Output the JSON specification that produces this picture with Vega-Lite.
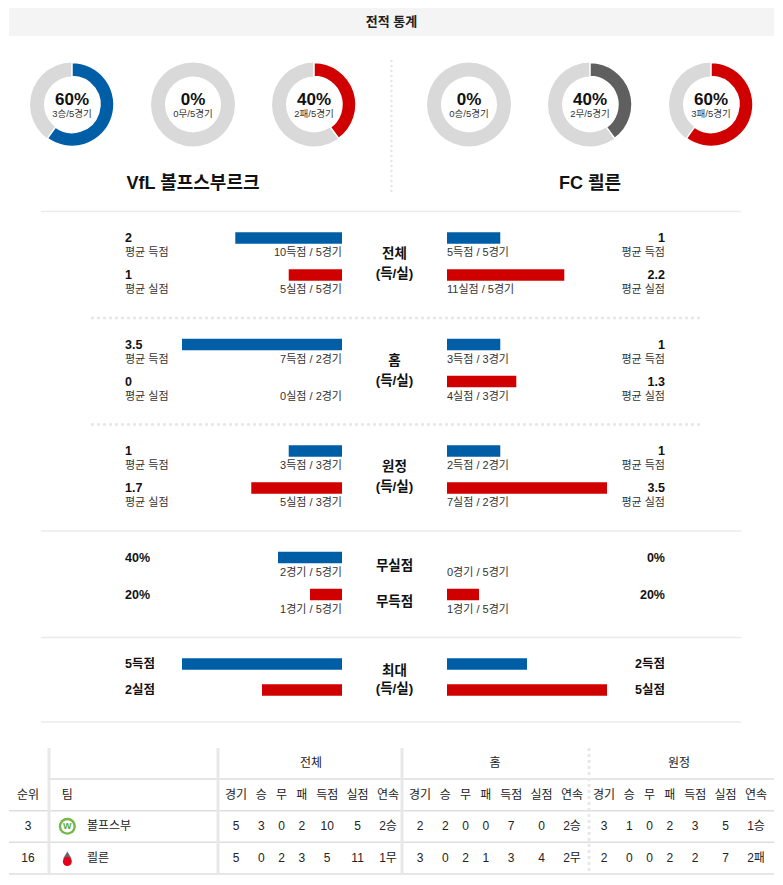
{
  "$schema": "https://vega.github.io/schema/vega-lite/v6.json",
  "width": 783,
  "height": 885,
  "padding": 0,
  "autosize": "none",
  "background": "#ffffff",
  "config": {
    "font": "Liberation Sans, Noto Sans CJK KR, sans-serif",
    "view": {"stroke": null},
    "axis": {"disable": true},
    "legend": {"disable": true},
    "text": {"baseline": "middle", "color": "#111111"}
  },
  "datasets": {
    "title": [{"label": "전적 통계"}],
    "donut": [
      {"team": "VfL", "res": "승", "pct": 60, "big": "60%", "small": "3승/5경기"},
      {"team": "VfL", "res": "무", "pct": 0, "big": "0%", "small": "0무/5경기"},
      {"team": "VfL", "res": "패", "pct": 40, "big": "40%", "small": "2패/5경기"},
      {"team": "FC", "res": "승", "pct": 0, "big": "0%", "small": "0승/5경기"},
      {"team": "FC", "res": "무", "pct": 40, "big": "40%", "small": "2무/5경기"},
      {"team": "FC", "res": "패", "pct": 60, "big": "60%", "small": "3패/5경기"}
    ],
    "teams": [
      {"team": "VfL", "name": "VfL 볼프스부르크", "short": "볼프스부", "rank": "3"},
      {"team": "FC", "name": "FC 쾰른", "short": "쾰른", "rank": "16"}
    ],
    "bars": [
      {"sec": "전체", "team": "VfL", "ord": 1, "val": "2", "sub": "평균 득점", "cnt": "10득점 / 5경기", "bar": 66.7},
      {"sec": "전체", "team": "VfL", "ord": 2, "val": "1", "sub": "평균 실점", "cnt": "5실점 / 5경기", "bar": 33.3},
      {"sec": "전체", "team": "FC", "ord": 1, "val": "1", "sub": "평균 득점", "cnt": "5득점 / 5경기", "bar": 33.3},
      {"sec": "전체", "team": "FC", "ord": 2, "val": "2.2", "sub": "평균 실점", "cnt": "11실점 / 5경기", "bar": 73.3},
      {"sec": "홈", "team": "VfL", "ord": 1, "val": "3.5", "sub": "평균 득점", "cnt": "7득점 / 2경기", "bar": 100},
      {"sec": "홈", "team": "VfL", "ord": 2, "val": "0", "sub": "평균 실점", "cnt": "0실점 / 2경기", "bar": 0},
      {"sec": "홈", "team": "FC", "ord": 1, "val": "1", "sub": "평균 득점", "cnt": "3득점 / 3경기", "bar": 33.3},
      {"sec": "홈", "team": "FC", "ord": 2, "val": "1.3", "sub": "평균 실점", "cnt": "4실점 / 3경기", "bar": 43.3},
      {"sec": "원정", "team": "VfL", "ord": 1, "val": "1", "sub": "평균 득점", "cnt": "3득점 / 3경기", "bar": 33.3},
      {"sec": "원정", "team": "VfL", "ord": 2, "val": "1.7", "sub": "평균 실점", "cnt": "5실점 / 3경기", "bar": 56.7},
      {"sec": "원정", "team": "FC", "ord": 1, "val": "1", "sub": "평균 득점", "cnt": "2득점 / 2경기", "bar": 33.3},
      {"sec": "원정", "team": "FC", "ord": 2, "val": "3.5", "sub": "평균 실점", "cnt": "7실점 / 2경기", "bar": 100},
      {"sec": "무실점", "team": "VfL", "ord": 1, "val": "40%", "cnt": "2경기 / 5경기", "bar": 40},
      {"sec": "무실점", "team": "VfL", "ord": 2, "val": "20%", "cnt": "1경기 / 5경기", "bar": 20},
      {"sec": "무실점", "team": "FC", "ord": 1, "val": "0%", "cnt": "0경기 / 5경기", "bar": 0},
      {"sec": "무실점", "team": "FC", "ord": 2, "val": "20%", "cnt": "1경기 / 5경기", "bar": 20},
      {"sec": "최대", "team": "VfL", "ord": 1, "val": "5득점", "bar": 100},
      {"sec": "최대", "team": "VfL", "ord": 2, "val": "2실점", "bar": 50},
      {"sec": "최대", "team": "FC", "ord": 1, "val": "2득점", "bar": 50},
      {"sec": "최대", "team": "FC", "ord": 2, "val": "5실점", "bar": 100}
    ],
    "centers": [
      {"sec": "전체", "ord": 1, "label": "전체"},
      {"sec": "전체", "ord": 2, "label": "(득/실)"},
      {"sec": "홈", "ord": 1, "label": "홈"},
      {"sec": "홈", "ord": 2, "label": "(득/실)"},
      {"sec": "원정", "ord": 1, "label": "원정"},
      {"sec": "원정", "ord": 2, "label": "(득/실)"},
      {"sec": "무실점", "ord": 1, "label": "무실점"},
      {"sec": "무실점", "ord": 2, "label": "무득점"},
      {"sec": "최대", "ord": 1, "label": "최대"},
      {"sec": "최대", "ord": 2, "label": "(득/실)"}
    ],
    "trows": [{"row": "grp"}, {"row": "hdr"}, {"row": "VfL"}, {"row": "FC"}],
    "lhead": [{"col": "순위", "label": "순위"}, {"col": "팀", "label": "팀"}],
    "cells": [
      {"team": "VfL", "grp": "전체", "col": "경기", "v": "5"},
      {"team": "VfL", "grp": "전체", "col": "승", "v": "3"},
      {"team": "VfL", "grp": "전체", "col": "무", "v": "0"},
      {"team": "VfL", "grp": "전체", "col": "패", "v": "2"},
      {"team": "VfL", "grp": "전체", "col": "득점", "v": "10"},
      {"team": "VfL", "grp": "전체", "col": "실점", "v": "5"},
      {"team": "VfL", "grp": "전체", "col": "연속", "v": "2승"},
      {"team": "VfL", "grp": "홈", "col": "경기", "v": "2"},
      {"team": "VfL", "grp": "홈", "col": "승", "v": "2"},
      {"team": "VfL", "grp": "홈", "col": "무", "v": "0"},
      {"team": "VfL", "grp": "홈", "col": "패", "v": "0"},
      {"team": "VfL", "grp": "홈", "col": "득점", "v": "7"},
      {"team": "VfL", "grp": "홈", "col": "실점", "v": "0"},
      {"team": "VfL", "grp": "홈", "col": "연속", "v": "2승"},
      {"team": "VfL", "grp": "원정", "col": "경기", "v": "3"},
      {"team": "VfL", "grp": "원정", "col": "승", "v": "1"},
      {"team": "VfL", "grp": "원정", "col": "무", "v": "0"},
      {"team": "VfL", "grp": "원정", "col": "패", "v": "2"},
      {"team": "VfL", "grp": "원정", "col": "득점", "v": "3"},
      {"team": "VfL", "grp": "원정", "col": "실점", "v": "5"},
      {"team": "VfL", "grp": "원정", "col": "연속", "v": "1승"},
      {"team": "FC", "grp": "전체", "col": "경기", "v": "5"},
      {"team": "FC", "grp": "전체", "col": "승", "v": "0"},
      {"team": "FC", "grp": "전체", "col": "무", "v": "2"},
      {"team": "FC", "grp": "전체", "col": "패", "v": "3"},
      {"team": "FC", "grp": "전체", "col": "득점", "v": "5"},
      {"team": "FC", "grp": "전체", "col": "실점", "v": "11"},
      {"team": "FC", "grp": "전체", "col": "연속", "v": "1무"},
      {"team": "FC", "grp": "홈", "col": "경기", "v": "3"},
      {"team": "FC", "grp": "홈", "col": "승", "v": "0"},
      {"team": "FC", "grp": "홈", "col": "무", "v": "2"},
      {"team": "FC", "grp": "홈", "col": "패", "v": "1"},
      {"team": "FC", "grp": "홈", "col": "득점", "v": "3"},
      {"team": "FC", "grp": "홈", "col": "실점", "v": "4"},
      {"team": "FC", "grp": "홈", "col": "연속", "v": "2무"},
      {"team": "FC", "grp": "원정", "col": "경기", "v": "2"},
      {"team": "FC", "grp": "원정", "col": "승", "v": "0"},
      {"team": "FC", "grp": "원정", "col": "무", "v": "0"},
      {"team": "FC", "grp": "원정", "col": "패", "v": "2"},
      {"team": "FC", "grp": "원정", "col": "득점", "v": "2"},
      {"team": "FC", "grp": "원정", "col": "실점", "v": "7"},
      {"team": "FC", "grp": "원정", "col": "연속", "v": "2패"}
    ]
  },
  "resolve": {"scale": {"x": "independent", "y": "independent", "xOffset": "independent", "yOffset": "independent", "theta": "independent", "color": "independent"}},
  "layer": [
    {
      "data": {"name": "title"},
      "mark": {"type": "rect", "color": "#f4f4f4"},
      "encoding": {
        "x": {"datum": 0, "type": "quantitative", "scale": {"domain": [0, 1], "range": [9, 774]}},
        "x2": {"datum": 1},
        "y": {"datum": 0, "type": "quantitative", "scale": {"domain": [0, 1], "range": [8, 36]}},
        "y2": {"datum": 1}
      }
    },
    {
      "data": {"name": "title"},
      "mark": {"type": "text", "fontSize": 13, "fontWeight": "bold", "color": "#222222"},
      "encoding": {
        "x": {"datum": 0.5, "type": "quantitative", "scale": {"domain": [0, 1], "range": [9, 774]}},
        "y": {"datum": 0.5, "type": "quantitative", "scale": {"domain": [0, 1], "range": [8, 36]}},
        "text": {"field": "label"}
      }
    },
    {
      "data": {"name": "donut"},
      "mark": {"type": "arc", "radius": 42, "radius2": 28, "theta": 0, "theta2": 6.2832, "color": "#d9d9d9"},
      "encoding": {
        "x": {"field": "team", "type": "nominal", "scale": {"type": "point", "domain": ["VfL", "FC"], "range": [193, 590], "padding": 0}},
        "xOffset": {"field": "res", "type": "nominal", "scale": {"type": "point", "domain": ["승", "무", "패"], "range": [-121, 121], "padding": 0}},
        "y": {"datum": "도넛", "type": "nominal", "scale": {"type": "point", "domain": ["도넛", "팀명"], "range": [104.5, 184], "padding": 0}}
      }
    },
    {
      "data": {"name": "donut"},
      "transform": [{"filter": "datum.pct > 0"}],
      "mark": {"type": "arc", "radius": 42, "radius2": 28, "stroke": "#ffffff", "strokeWidth": 1.5},
      "encoding": {
        "x": {"field": "team", "type": "nominal", "scale": {"type": "point", "domain": ["VfL", "FC"], "range": [193, 590], "padding": 0}},
        "xOffset": {"field": "res", "type": "nominal", "scale": {"type": "point", "domain": ["승", "무", "패"], "range": [-121, 121], "padding": 0}},
        "y": {"datum": "도넛", "type": "nominal", "scale": {"type": "point", "domain": ["도넛", "팀명"], "range": [104.5, 184], "padding": 0}},
        "theta": {"field": "pct", "type": "quantitative", "stack": null, "scale": {"domain": [0, 100], "range": [0, 6.2832]}},
        "theta2": {"datum": 0},
        "color": {"field": "res", "type": "nominal", "scale": {"domain": ["승", "무", "패"], "range": ["#005ea6", "#5f5f5f", "#d10000"]}, "legend": null}
      }
    },
    {
      "data": {"name": "donut"},
      "mark": {"type": "text", "fontSize": 17, "fontWeight": "bold", "dy": -5, "color": "#111111"},
      "encoding": {
        "x": {"field": "team", "type": "nominal", "scale": {"type": "point", "domain": ["VfL", "FC"], "range": [193, 590], "padding": 0}},
        "xOffset": {"field": "res", "type": "nominal", "scale": {"type": "point", "domain": ["승", "무", "패"], "range": [-121, 121], "padding": 0}},
        "y": {"datum": "도넛", "type": "nominal", "scale": {"type": "point", "domain": ["도넛", "팀명"], "range": [104.5, 184], "padding": 0}},
        "text": {"field": "big"}
      }
    },
    {
      "data": {"name": "donut"},
      "mark": {"type": "text", "fontSize": 9.5, "dy": 9, "color": "#333333"},
      "encoding": {
        "x": {"field": "team", "type": "nominal", "scale": {"type": "point", "domain": ["VfL", "FC"], "range": [193, 590], "padding": 0}},
        "xOffset": {"field": "res", "type": "nominal", "scale": {"type": "point", "domain": ["승", "무", "패"], "range": [-121, 121], "padding": 0}},
        "y": {"datum": "도넛", "type": "nominal", "scale": {"type": "point", "domain": ["도넛", "팀명"], "range": [104.5, 184], "padding": 0}},
        "text": {"field": "small"}
      }
    },
    {
      "data": {"name": "teams"},
      "mark": {"type": "text", "fontSize": 18, "fontWeight": "bold", "color": "#111111"},
      "encoding": {
        "x": {"field": "team", "type": "nominal", "scale": {"type": "point", "domain": ["VfL", "구분", "FC"], "range": [193, 590], "padding": 0}},
        "y": {"datum": "팀명", "type": "nominal", "scale": {"type": "point", "domain": ["도넛", "팀명"], "range": [104.5, 184], "padding": 0}},
        "text": {"field": "name"}
      }
    },
    {
      "data": {"name": "title"},
      "mark": {"type": "rule", "stroke": "#e3e3e3", "strokeWidth": 2, "strokeDash": [2, 3]},
      "encoding": {
        "x": {"datum": "구분", "type": "nominal", "scale": {"type": "point", "domain": ["VfL", "구분", "FC"], "range": [193, 590], "padding": 0}},
        "y": {"datum": 0, "type": "quantitative", "scale": {"domain": [0, 1], "range": [60, 195]}},
        "y2": {"datum": 1}
      }
    },
    {
      "data": {"name": "centers"},
      "transform": [{"filter": "datum.ord == 1 && (datum.sec == '전체' || datum.sec == '무실점' || datum.sec == '최대')"}],
      "mark": {"type": "rule", "stroke": "#ebebeb", "strokeWidth": 1.5, "yOffset": -26.5},
      "encoding": {
        "x": {"datum": 0, "type": "quantitative", "scale": {"domain": [0, 1], "range": [41, 741]}},
        "x2": {"datum": 1},
        "y": {"field": "sec", "type": "nominal", "scale": {"type": "point", "domain": ["전체", "홈", "원정", "무실점", "최대"], "range": [238, 664], "padding": 0}}
      }
    },
    {
      "data": {"name": "centers"},
      "transform": [{"filter": "datum.ord == 1 && (datum.sec == '홈' || datum.sec == '원정')"}],
      "mark": {"type": "rule", "stroke": "#e6e6e6", "strokeWidth": 2.5, "strokeDash": [3, 3], "yOffset": -26.5},
      "encoding": {
        "x": {"datum": 0, "type": "quantitative", "scale": {"domain": [0, 1], "range": [91, 700]}},
        "x2": {"datum": 1},
        "y": {"field": "sec", "type": "nominal", "scale": {"type": "point", "domain": ["전체", "홈", "원정", "무실점", "최대"], "range": [238, 664], "padding": 0}}
      }
    },
    {
      "data": {"name": "centers"},
      "transform": [{"filter": "datum.ord == 1 && datum.sec == '최대'"}],
      "mark": {"type": "rule", "stroke": "#ebebeb", "strokeWidth": 1.5, "yOffset": 58},
      "encoding": {
        "x": {"datum": 0, "type": "quantitative", "scale": {"domain": [0, 1], "range": [41, 741]}},
        "x2": {"datum": 1},
        "y": {"field": "sec", "type": "nominal", "scale": {"type": "point", "domain": ["전체", "홈", "원정", "무실점", "최대"], "range": [238, 664], "padding": 0}}
      }
    },
    {
      "data": {"name": "bars"},
      "transform": [{"filter": "datum.team == 'VfL' && datum.sec != '최대'"}],
      "mark": {"type": "rule", "strokeWidth": 11.5},
      "encoding": {
        "x": {"field": "bar", "type": "quantitative", "scale": {"domain": [0, 100], "range": [342, 182]}},
        "x2": {"datum": 0},
        "y": {"field": "sec", "type": "nominal", "scale": {"type": "point", "domain": ["전체", "홈", "원정", "무실점", "최대"], "range": [238, 664], "padding": 0}},
        "yOffset": {"field": "ord", "type": "ordinal", "scale": {"type": "point", "domain": [1, 2], "range": [0, 37], "padding": 0}},
        "color": {"field": "ord", "type": "ordinal", "scale": {"domain": [1, 2], "range": ["#005ea6", "#d10000"]}, "legend": null}
      }
    },
    {
      "data": {"name": "bars"},
      "transform": [{"filter": "datum.team == 'VfL' && datum.sec == '최대'"}],
      "mark": {"type": "rule", "strokeWidth": 11.5},
      "encoding": {
        "x": {"field": "bar", "type": "quantitative", "scale": {"domain": [0, 100], "range": [342, 182]}},
        "x2": {"datum": 0},
        "y": {"field": "sec", "type": "nominal", "scale": {"type": "point", "domain": ["전체", "홈", "원정", "무실점", "최대"], "range": [238, 664], "padding": 0}},
        "yOffset": {"field": "ord", "type": "ordinal", "scale": {"type": "point", "domain": [1, 2], "range": [0, 26], "padding": 0}},
        "color": {"field": "ord", "type": "ordinal", "scale": {"domain": [1, 2], "range": ["#005ea6", "#d10000"]}, "legend": null}
      }
    },
    {
      "data": {"name": "bars"},
      "transform": [{"filter": "datum.team == 'FC' && datum.sec != '최대'"}],
      "mark": {"type": "rule", "strokeWidth": 11.5},
      "encoding": {
        "x": {"field": "bar", "type": "quantitative", "scale": {"domain": [0, 100], "range": [447, 607]}},
        "x2": {"datum": 0},
        "y": {"field": "sec", "type": "nominal", "scale": {"type": "point", "domain": ["전체", "홈", "원정", "무실점", "최대"], "range": [238, 664], "padding": 0}},
        "yOffset": {"field": "ord", "type": "ordinal", "scale": {"type": "point", "domain": [1, 2], "range": [0, 37], "padding": 0}},
        "color": {"field": "ord", "type": "ordinal", "scale": {"domain": [1, 2], "range": ["#005ea6", "#d10000"]}, "legend": null}
      }
    },
    {
      "data": {"name": "bars"},
      "transform": [{"filter": "datum.team == 'FC' && datum.sec == '최대'"}],
      "mark": {"type": "rule", "strokeWidth": 11.5},
      "encoding": {
        "x": {"field": "bar", "type": "quantitative", "scale": {"domain": [0, 100], "range": [447, 607]}},
        "x2": {"datum": 0},
        "y": {"field": "sec", "type": "nominal", "scale": {"type": "point", "domain": ["전체", "홈", "원정", "무실점", "최대"], "range": [238, 664], "padding": 0}},
        "yOffset": {"field": "ord", "type": "ordinal", "scale": {"type": "point", "domain": [1, 2], "range": [0, 26], "padding": 0}},
        "color": {"field": "ord", "type": "ordinal", "scale": {"domain": [1, 2], "range": ["#005ea6", "#d10000"]}, "legend": null}
      }
    },
    {
      "data": {"name": "bars"},
      "transform": [{"filter": "datum.team == 'VfL' && datum.sec != '최대'"}],
      "mark": {"type": "text", "align": "left", "fontSize": 12.5, "fontWeight": "bold", "color": "#111111"},
      "encoding": {
        "x": {"field": "team", "type": "nominal", "scale": {"type": "point", "domain": ["VfL", "FC"], "range": [125, 665], "padding": 0}},
        "y": {"field": "sec", "type": "nominal", "scale": {"type": "point", "domain": ["전체", "홈", "원정", "무실점", "최대"], "range": [238, 664], "padding": 0}},
        "yOffset": {"field": "ord", "type": "ordinal", "scale": {"type": "point", "domain": [1, 2], "range": [0, 37], "padding": 0}},
        "text": {"field": "val"}
      }
    },
    {
      "data": {"name": "bars"},
      "transform": [{"filter": "datum.team == 'VfL' && datum.sec == '최대'"}],
      "mark": {"type": "text", "align": "left", "fontSize": 12.5, "fontWeight": "bold", "color": "#111111"},
      "encoding": {
        "x": {"field": "team", "type": "nominal", "scale": {"type": "point", "domain": ["VfL", "FC"], "range": [125, 665], "padding": 0}},
        "y": {"field": "sec", "type": "nominal", "scale": {"type": "point", "domain": ["전체", "홈", "원정", "무실점", "최대"], "range": [238, 664], "padding": 0}},
        "yOffset": {"field": "ord", "type": "ordinal", "scale": {"type": "point", "domain": [1, 2], "range": [0, 26], "padding": 0}},
        "text": {"field": "val"}
      }
    },
    {
      "data": {"name": "bars"},
      "transform": [{"filter": "datum.team == 'FC' && datum.sec != '최대'"}],
      "mark": {"type": "text", "align": "right", "fontSize": 12.5, "fontWeight": "bold", "color": "#111111"},
      "encoding": {
        "x": {"field": "team", "type": "nominal", "scale": {"type": "point", "domain": ["VfL", "FC"], "range": [125, 665], "padding": 0}},
        "y": {"field": "sec", "type": "nominal", "scale": {"type": "point", "domain": ["전체", "홈", "원정", "무실점", "최대"], "range": [238, 664], "padding": 0}},
        "yOffset": {"field": "ord", "type": "ordinal", "scale": {"type": "point", "domain": [1, 2], "range": [0, 37], "padding": 0}},
        "text": {"field": "val"}
      }
    },
    {
      "data": {"name": "bars"},
      "transform": [{"filter": "datum.team == 'FC' && datum.sec == '최대'"}],
      "mark": {"type": "text", "align": "right", "fontSize": 12.5, "fontWeight": "bold", "color": "#111111"},
      "encoding": {
        "x": {"field": "team", "type": "nominal", "scale": {"type": "point", "domain": ["VfL", "FC"], "range": [125, 665], "padding": 0}},
        "y": {"field": "sec", "type": "nominal", "scale": {"type": "point", "domain": ["전체", "홈", "원정", "무실점", "최대"], "range": [238, 664], "padding": 0}},
        "yOffset": {"field": "ord", "type": "ordinal", "scale": {"type": "point", "domain": [1, 2], "range": [0, 26], "padding": 0}},
        "text": {"field": "val"}
      }
    },
    {
      "data": {"name": "bars"},
      "transform": [{"filter": "datum.team == 'VfL' && isValid(datum.sub)"}],
      "mark": {"type": "text", "align": "left", "fontSize": 11, "color": "#333333"},
      "encoding": {
        "x": {"field": "team", "type": "nominal", "scale": {"type": "point", "domain": ["VfL", "FC"], "range": [125, 665], "padding": 0}},
        "y": {"field": "sec", "type": "nominal", "scale": {"type": "point", "domain": ["전체", "홈", "원정", "무실점", "최대"], "range": [238, 664], "padding": 0}},
        "yOffset": {"field": "ord", "type": "ordinal", "scale": {"type": "point", "domain": [1, 2], "range": [15, 52], "padding": 0}},
        "text": {"field": "sub"}
      }
    },
    {
      "data": {"name": "bars"},
      "transform": [{"filter": "datum.team == 'FC' && isValid(datum.sub)"}],
      "mark": {"type": "text", "align": "right", "fontSize": 11, "color": "#333333"},
      "encoding": {
        "x": {"field": "team", "type": "nominal", "scale": {"type": "point", "domain": ["VfL", "FC"], "range": [125, 665], "padding": 0}},
        "y": {"field": "sec", "type": "nominal", "scale": {"type": "point", "domain": ["전체", "홈", "원정", "무실점", "최대"], "range": [238, 664], "padding": 0}},
        "yOffset": {"field": "ord", "type": "ordinal", "scale": {"type": "point", "domain": [1, 2], "range": [15, 52], "padding": 0}},
        "text": {"field": "sub"}
      }
    },
    {
      "data": {"name": "bars"},
      "transform": [{"filter": "datum.team == 'VfL' && isValid(datum.cnt)"}],
      "mark": {"type": "text", "align": "right", "fontSize": 11, "color": "#333333"},
      "encoding": {
        "x": {"field": "team", "type": "nominal", "scale": {"type": "point", "domain": ["VfL", "FC"], "range": [342, 447], "padding": 0}},
        "y": {"field": "sec", "type": "nominal", "scale": {"type": "point", "domain": ["전체", "홈", "원정", "무실점", "최대"], "range": [238, 664], "padding": 0}},
        "yOffset": {"field": "ord", "type": "ordinal", "scale": {"type": "point", "domain": [1, 2], "range": [15, 52], "padding": 0}},
        "text": {"field": "cnt"}
      }
    },
    {
      "data": {"name": "bars"},
      "transform": [{"filter": "datum.team == 'FC' && isValid(datum.cnt)"}],
      "mark": {"type": "text", "align": "left", "fontSize": 11, "color": "#333333"},
      "encoding": {
        "x": {"field": "team", "type": "nominal", "scale": {"type": "point", "domain": ["VfL", "FC"], "range": [342, 447], "padding": 0}},
        "y": {"field": "sec", "type": "nominal", "scale": {"type": "point", "domain": ["전체", "홈", "원정", "무실점", "최대"], "range": [238, 664], "padding": 0}},
        "yOffset": {"field": "ord", "type": "ordinal", "scale": {"type": "point", "domain": [1, 2], "range": [15, 52], "padding": 0}},
        "text": {"field": "cnt"}
      }
    },
    {
      "data": {"name": "centers"},
      "transform": [{"filter": "datum.sec == '전체' || datum.sec == '홈' || datum.sec == '원정'"}],
      "mark": {"type": "text", "fontSize": 13.5, "fontWeight": "bold", "color": "#111111"},
      "encoding": {
        "x": {"datum": "구분", "type": "nominal", "scale": {"type": "point", "domain": ["VfL", "구분", "FC"], "range": [342, 447], "padding": 0}},
        "y": {"field": "sec", "type": "nominal", "scale": {"type": "point", "domain": ["전체", "홈", "원정", "무실점", "최대"], "range": [238, 664], "padding": 0}},
        "yOffset": {"field": "ord", "type": "ordinal", "scale": {"type": "point", "domain": [1, 2], "range": [16, 36], "padding": 0}},
        "text": {"field": "label"}
      }
    },
    {
      "data": {"name": "centers"},
      "transform": [{"filter": "datum.sec == '무실점'"}],
      "mark": {"type": "text", "fontSize": 13.5, "fontWeight": "bold", "color": "#111111"},
      "encoding": {
        "x": {"datum": "구분", "type": "nominal", "scale": {"type": "point", "domain": ["VfL", "구분", "FC"], "range": [342, 447], "padding": 0}},
        "y": {"field": "sec", "type": "nominal", "scale": {"type": "point", "domain": ["전체", "홈", "원정", "무실점", "최대"], "range": [238, 664], "padding": 0}},
        "yOffset": {"field": "ord", "type": "ordinal", "scale": {"type": "point", "domain": [1, 2], "range": [8, 44], "padding": 0}},
        "text": {"field": "label"}
      }
    },
    {
      "data": {"name": "centers"},
      "transform": [{"filter": "datum.sec == '최대'"}],
      "mark": {"type": "text", "fontSize": 13.5, "fontWeight": "bold", "color": "#111111"},
      "encoding": {
        "x": {"datum": "구분", "type": "nominal", "scale": {"type": "point", "domain": ["VfL", "구분", "FC"], "range": [342, 447], "padding": 0}},
        "y": {"field": "sec", "type": "nominal", "scale": {"type": "point", "domain": ["전체", "홈", "원정", "무실점", "최대"], "range": [238, 664], "padding": 0}},
        "yOffset": {"field": "ord", "type": "ordinal", "scale": {"type": "point", "domain": [1, 2], "range": [7, 25], "padding": 0}},
        "text": {"field": "label"}
      }
    },
    {
      "data": {"name": "trows"},
      "transform": [{"filter": "datum.row != 'grp'"}],
      "mark": {"type": "rule", "stroke": "#dedede", "strokeWidth": 1.5, "yOffset": 16},
      "encoding": {
        "x": {"datum": 0, "type": "quantitative", "scale": {"domain": [0, 1], "range": [9, 774]}},
        "x2": {"datum": 1},
        "y": {"field": "row", "type": "nominal", "scale": {"type": "point", "domain": ["grp", "hdr", "VfL", "FC"], "range": [763, 858], "padding": 0}}
      }
    },
    {
      "data": {"name": "trows"},
      "transform": [{"filter": "datum.row == 'grp'"}],
      "mark": {"type": "rule", "stroke": "#dedede", "strokeWidth": 1.5, "yOffset": 16},
      "encoding": {
        "x": {"datum": 0, "type": "quantitative", "scale": {"domain": [0, 1], "range": [49, 774]}},
        "x2": {"datum": 1},
        "y": {"field": "row", "type": "nominal", "scale": {"type": "point", "domain": ["grp", "hdr", "VfL", "FC"], "range": [763, 858], "padding": 0}}
      }
    },
    {
      "data": {"name": "cells"},
      "transform": [{"filter": "datum.team == 'VfL' && datum.col == '경기' && datum.grp != '원정'"}],
      "mark": {"type": "rule", "stroke": "#e8e8e8", "strokeWidth": 3, "xOffset": -18},
      "encoding": {
        "x": {"field": "grp", "type": "nominal", "scale": {"type": "point", "domain": ["전체", "홈", "원정"], "range": [236, 604], "padding": 0}},
        "y": {"datum": 0, "type": "quantitative", "scale": {"domain": [0, 1], "range": [748, 875]}},
        "y2": {"datum": 1}
      }
    },
    {
      "data": {"name": "cells"},
      "transform": [{"filter": "datum.team == 'VfL' && datum.col == '경기' && datum.grp == '원정'"}],
      "mark": {"type": "rule", "stroke": "#e8e8e8", "strokeWidth": 3, "strokeDash": [3, 3], "xOffset": -15},
      "encoding": {
        "x": {"field": "grp", "type": "nominal", "scale": {"type": "point", "domain": ["전체", "홈", "원정"], "range": [236, 604], "padding": 0}},
        "y": {"datum": 0, "type": "quantitative", "scale": {"domain": [0, 1], "range": [748, 875]}},
        "y2": {"datum": 1}
      }
    },
    {
      "data": {"name": "trows"},
      "transform": [{"filter": "datum.row == 'grp'"}],
      "mark": {"type": "rule", "stroke": "#e8e8e8", "strokeWidth": 3, "xOffset": 1.3},
      "encoding": {
        "x": {"datum": "_", "type": "nominal", "scale": {"type": "point", "domain": ["순위", "_", "팀", "이름"], "range": [28, 87], "padding": 0}},
        "y": {"datum": 0, "type": "quantitative", "scale": {"domain": [0, 1], "range": [748, 875]}},
        "y2": {"datum": 1}
      }
    },
    {
      "data": {"name": "cells"},
      "transform": [{"filter": "datum.team == 'VfL' && datum.col == '경기'"}],
      "mark": {"type": "text", "fontSize": 12, "dx": 75, "color": "#222222"},
      "encoding": {
        "x": {"field": "grp", "type": "nominal", "scale": {"type": "point", "domain": ["전체", "홈", "원정"], "range": [236, 604], "padding": 0}},
        "y": {"datum": "grp", "type": "nominal", "scale": {"type": "point", "domain": ["grp", "hdr", "VfL", "FC"], "range": [763, 858], "padding": 0}},
        "text": {"field": "grp"}
      }
    },
    {
      "data": {"name": "cells"},
      "transform": [{"filter": "datum.team == 'VfL'"}],
      "mark": {"type": "text", "fontSize": 12, "color": "#222222"},
      "encoding": {
        "x": {"field": "grp", "type": "nominal", "scale": {"type": "point", "domain": ["전체", "홈", "원정"], "range": [236, 604], "padding": 0}},
        "xOffset": {"field": "col", "type": "nominal", "scale": {"type": "point", "domain": ["경기", "s1", "s2", "s3", "s4", "승", "s6", "s7", "s8", "무", "s10", "s11", "s12", "패", "s14", "s15", "s16", "s17", "득점", "s19", "s20", "s21", "s22", "s23", "실점", "s25", "s26", "s27", "s28", "s29", "연속"], "range": [0, 152], "padding": 0}},
        "y": {"datum": "hdr", "type": "nominal", "scale": {"type": "point", "domain": ["grp", "hdr", "VfL", "FC"], "range": [763, 858], "padding": 0}},
        "text": {"field": "col"}
      }
    },
    {
      "data": {"name": "cells"},
      "mark": {"type": "text", "fontSize": 12, "color": "#222222"},
      "encoding": {
        "x": {"field": "grp", "type": "nominal", "scale": {"type": "point", "domain": ["전체", "홈", "원정"], "range": [236, 604], "padding": 0}},
        "xOffset": {"field": "col", "type": "nominal", "scale": {"type": "point", "domain": ["경기", "s1", "s2", "s3", "s4", "승", "s6", "s7", "s8", "무", "s10", "s11", "s12", "패", "s14", "s15", "s16", "s17", "득점", "s19", "s20", "s21", "s22", "s23", "실점", "s25", "s26", "s27", "s28", "s29", "연속"], "range": [0, 152], "padding": 0}},
        "y": {"field": "team", "type": "nominal", "scale": {"type": "point", "domain": ["grp", "hdr", "VfL", "FC"], "range": [763, 858], "padding": 0}},
        "text": {"field": "v"}
      }
    },
    {
      "data": {"name": "lhead"},
      "mark": {"type": "text", "fontSize": 12, "color": "#222222"},
      "encoding": {
        "x": {"field": "col", "type": "nominal", "scale": {"type": "point", "domain": ["순위", "_", "팀", "이름"], "range": [28, 87], "padding": 0}},
        "y": {"datum": "hdr", "type": "nominal", "scale": {"type": "point", "domain": ["grp", "hdr", "VfL", "FC"], "range": [763, 858], "padding": 0}},
        "text": {"field": "label"}
      }
    },
    {
      "data": {"name": "teams"},
      "mark": {"type": "text", "fontSize": 12, "color": "#222222"},
      "encoding": {
        "x": {"datum": "순위", "type": "nominal", "scale": {"type": "point", "domain": ["순위", "_", "팀", "이름"], "range": [28, 87], "padding": 0}},
        "y": {"field": "team", "type": "nominal", "scale": {"type": "point", "domain": ["grp", "hdr", "VfL", "FC"], "range": [763, 858], "padding": 0}},
        "text": {"field": "rank"}
      }
    },
    {
      "data": {"name": "teams"},
      "mark": {"type": "text", "fontSize": 12, "align": "left", "color": "#222222"},
      "encoding": {
        "x": {"datum": "이름", "type": "nominal", "scale": {"type": "point", "domain": ["순위", "_", "팀", "이름"], "range": [28, 87], "padding": 0}},
        "y": {"field": "team", "type": "nominal", "scale": {"type": "point", "domain": ["grp", "hdr", "VfL", "FC"], "range": [763, 858], "padding": 0}},
        "text": {"field": "short"}
      }
    },
    {
      "data": {"name": "teams"},
      "transform": [{"filter": "datum.team == 'VfL'"}],
      "mark": {"type": "point", "shape": "circle", "filled": true, "size": 290, "color": "#72b844", "opacity": 1},
      "encoding": {
        "x": {"datum": "팀", "type": "nominal", "scale": {"type": "point", "domain": ["순위", "_", "팀", "이름"], "range": [28, 87], "padding": 0}},
        "y": {"field": "team", "type": "nominal", "scale": {"type": "point", "domain": ["grp", "hdr", "VfL", "FC"], "range": [763, 858], "padding": 0}}
      }
    },
    {
      "data": {"name": "teams"},
      "transform": [{"filter": "datum.team == 'VfL'"}],
      "mark": {"type": "point", "shape": "circle", "filled": true, "size": 150, "color": "#ffffff", "opacity": 1},
      "encoding": {
        "x": {"datum": "팀", "type": "nominal", "scale": {"type": "point", "domain": ["순위", "_", "팀", "이름"], "range": [28, 87], "padding": 0}},
        "y": {"field": "team", "type": "nominal", "scale": {"type": "point", "domain": ["grp", "hdr", "VfL", "FC"], "range": [763, 858], "padding": 0}}
      }
    },
    {
      "data": {"name": "teams"},
      "transform": [{"filter": "datum.team == 'VfL'"}],
      "mark": {"type": "text", "fontSize": 9, "fontWeight": "bold", "color": "#5aa82e"},
      "encoding": {
        "x": {"datum": "팀", "type": "nominal", "scale": {"type": "point", "domain": ["순위", "_", "팀", "이름"], "range": [28, 87], "padding": 0}},
        "y": {"field": "team", "type": "nominal", "scale": {"type": "point", "domain": ["grp", "hdr", "VfL", "FC"], "range": [763, 858], "padding": 0}},
        "text": {"value": "W"}
      }
    },
    {
      "data": {"name": "teams"},
      "transform": [{"filter": "datum.team == 'FC'"}],
      "mark": {"type": "point", "shape": "triangle-up", "filled": true, "size": 70, "color": "#666666", "opacity": 1, "yOffset": -3},
      "encoding": {
        "x": {"datum": "팀", "type": "nominal", "scale": {"type": "point", "domain": ["순위", "_", "팀", "이름"], "range": [28, 87], "padding": 0}},
        "y": {"field": "team", "type": "nominal", "scale": {"type": "point", "domain": ["grp", "hdr", "VfL", "FC"], "range": [763, 858], "padding": 0}}
      }
    },
    {
      "data": {"name": "teams"},
      "transform": [{"filter": "datum.team == 'FC'"}],
      "mark": {"type": "point", "shape": "circle", "filled": true, "size": 80, "color": "#e3001b", "opacity": 1, "yOffset": 3.5},
      "encoding": {
        "x": {"datum": "팀", "type": "nominal", "scale": {"type": "point", "domain": ["순위", "_", "팀", "이름"], "range": [28, 87], "padding": 0}},
        "y": {"field": "team", "type": "nominal", "scale": {"type": "point", "domain": ["grp", "hdr", "VfL", "FC"], "range": [763, 858], "padding": 0}}
      }
    }
  ]
}
